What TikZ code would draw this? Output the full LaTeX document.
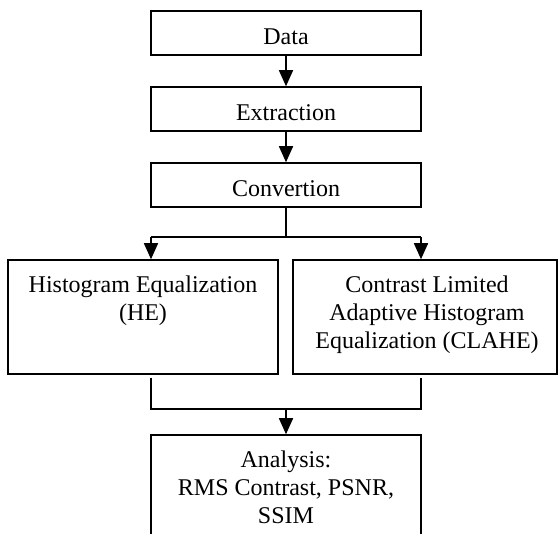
\documentclass[tikz,border=0pt]{standalone}
\usepackage{fontspec}
\setmainfont{Liberation Serif}
\usetikzlibrary{arrows.meta}
\begin{document}
\begin{tikzpicture}[x=0.5pt,y=-0.5pt,
  box/.style={draw=black,line width=0.75pt,rectangle,inner sep=0pt,minimum width=135pt},
  lbl/.style={inner sep=0pt,align=center,font=\fontsize{12}{14}\selectfont},
  conn/.style={line width=0.75pt,draw=black},
  arr/.style={conn,-{Triangle[length=8pt,width=7pt]}}]
\useasboundingbox (0,0) rectangle (558,534);
\clip (0,0) rectangle (558,534);
% boxes
\node[box,minimum height=22pt] (data) at (286,33) {};
\node[box,minimum height=22pt] (extr) at (286,109) {};
\node[box,minimum height=22pt] (conv) at (286,185) {};
\node[box,minimum height=57pt] (he) at (143,317) {};
\node[box,minimum height=57pt,minimum width=132pt] (clahe) at (425,317) {};
\node[box,minimum height=70pt] (ana) at (286,505) {};
% texts
\node[lbl,anchor=base] (tdata) at (286,44.5) {Data};
\node[lbl,anchor=base] (textr) at (286,120.5) {Extraction};
\node[lbl,anchor=base] (tconv) at (286,196.5) {Convertion};
\node[lbl,anchor=north] (the) at (143,273) {\strut Histogram Equalization\\(HE)};
\node[lbl,anchor=north] (tclahe) at (427,273) {\strut Contrast Limited\\Adaptive Histogram\\Equalization (CLAHE)};
\node[lbl,anchor=north] (tana) at (286,447.5) {\strut Analysis:\\RMS Contrast, PSNR,\\SSIM};
% connectors
\draw[arr] (data) -- (extr);
\draw[arr] (extr) -- (conv);
\coordinate (split) at (286,237);
\coordinate (sl) at (151,237);
\coordinate (sr) at (421,237);
\draw[conn] (conv.south) -- (split);
\draw[conn] (sl) -- (sr);
\draw[arr] (sl) -- (sl |- he.north);
\draw[arr] (sr) -- (sr |- clahe.north);
\coordinate (ml) at (151,409);
\coordinate (mr) at (421,409);
\coordinate (merge) at (286,409);
\draw[conn] (sl |- he.south) ++(0,3) -- (ml) -- (mr) -- ([yshift=-1.5pt]sr |- clahe.south);
\draw[arr] (merge) -- (ana.north);
\end{tikzpicture}
\end{document}
